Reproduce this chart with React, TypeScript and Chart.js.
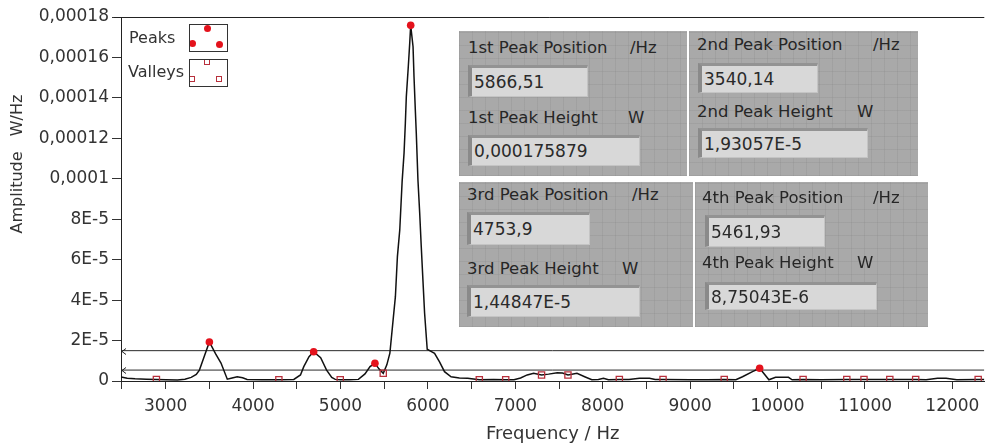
import React, { useEffect, useRef } from "react";
import { Chart, registerables } from "chart.js";

Chart.register(...registerables);

// ---------- data (amplitudes in 1e-6 W/Hz) ----------
const SPEC_FREQ = [
  2490, 2560, 2650, 2780, 2894, 3000, 3136, 3220, 3292, 3350, 3386, 3440, 3500, 3570, 3633, 3705,
  3760, 3818, 3880, 3932, 4100, 4295, 4466, 4542, 4580, 4640, 4693, 4773, 4841, 4900, 4940, 4997,
  5100, 5205, 5280, 5338, 5394, 5440, 5489, 5530, 5565, 5602, 5628, 5651, 5678, 5705, 5727, 5742,
  5753, 5775, 5792, 5803, 5830, 5841, 5856, 5867, 5886, 5906, 5924, 5943, 5962, 5992, 6030, 6076,
  6133, 6190, 6265, 6360, 6455, 6588, 6750, 6890, 6985, 7060, 7136, 7210, 7300, 7380, 7480, 7540,
  7602, 7705, 7800, 7875, 7950, 8008, 8065, 8190, 8300, 8420, 8535, 8600, 8690, 9000, 9200, 9390,
  9523, 9599, 9713, 9795, 9901, 9977, 10125, 10167, 10292, 10500, 10792, 10900, 10989, 11150, 11284,
  11450, 11580, 11700, 11830, 11928, 12050, 12295, 12365,
];
const SPEC_AMP = [
  2.0, 1.4, 1.1, 0.9, 0.7, 0.6, 0.5, 0.9, 1.8, 3.2, 5.4, 12.0, 19.3, 13.5, 8.9, 0.9,
  1.5, 2.1, 1.6, 0.8, 0.6, 0.6, 0.8, 3.0, 7.1, 12.0, 14.5, 11.5, 5.4, 1.8, 0.8, 0.6,
  0.6, 0.8, 3.5, 7.1, 8.75, 6.0, 3.8, 8.0, 13.8, 30.2, 41.7, 61.5, 74.7, 98.6, 112.7, 127.6,
  140.6, 155.0, 167.1, 175.88, 165.3, 150.5, 134.0, 122.6, 99.4, 83.1, 66.4, 49.9, 33.6, 15.7, 14.8, 13.7,
  9.5, 4.6, 2.1, 1.5, 1.3, 0.6, 0.7, 0.6, 0.6, 1.5, 3.0, 3.8, 3.0, 3.4, 4.1, 3.9,
  3.0, 3.8, 2.0, 0.6, 0.8, 1.3, 0.6, 0.7, 0.7, 1.3, 1.3, 0.7, 0.7, 0.6, 0.6, 0.7,
  0.6, 2.1, 4.6, 6.3, 0.6, 1.8, 1.8, 0.6, 0.7, 0.6, 0.7, 0.7, 0.7, 0.7, 0.7,
  0.7, 0.7, 0.6, 1.3, 1.3, 0.6, 0.7, 0.7,
];
const PEAK_FREQ = [3500, 4693, 5394, 5803, 9795];
const PEAK_AMP = [19.3057, 14.4847, 8.75043, 175.879, 6.3];
const VALLEY_FREQ = [2894, 4295, 4997, 5489, 6588, 6890, 7300, 7602, 8190, 8690, 9390, 10292, 10792, 10989, 11284, 11580, 12295];
const VALLEY_AMP = [0.7, 0.6, 0.6, 3.8, 0.6, 0.6, 3.0, 3.0, 0.7, 0.7, 0.7, 0.7, 0.7, 0.7, 0.7, 0.7, 0.7];
const THRESHOLDS = [15.0, 5.4];

const X_TICKS = [2500, 3000, 3500, 4000, 4500, 5000, 5500, 6000, 6500, 7000, 7500, 8000, 8500, 9000, 9500, 10000, 10500, 11000, 11500, 12000];
const X_TICK_LABELS = ["", "3000", "", "4000", "", "5000", "", "6000", "", "7000", "", "8000", "", "9000", "", "10000", "", "11000", "", "12000"];
const Y_TICKS = [0, 20, 40, 60, 80, 100, 120, 140, 160, 180];
const Y_TICK_LABELS = ["0", "2E-5", "4E-5", "6E-5", "8E-5", "0,0001", "0,00012", "0,00014", "0,00016", "0,00018"];

const X_TITLE = "Frequency / Hz";
const Y_TITLE = "Amplitude   W/Hz";
const LEGEND_LABELS = ["Peaks", "Valleys"];

const PANEL_POS_LABELS = ["1st Peak Position", "2nd Peak Position", "3rd Peak Position", "4th Peak Position"];
const PANEL_HEIGHT_LABELS = ["1st Peak Height", "2nd Peak Height", "3rd Peak Height", "4th Peak Height"];
const PANEL_POS_VALUES = ["5866,51", "3540,14", "4753,9", "5461,93"];
const PANEL_HEIGHT_VALUES = ["0,000175879", "1,93057E-5", "1,44847E-5", "8,75043E-6"];
const POS_UNIT = "/Hz";
const HEIGHT_UNIT = "W";

const UNIT = 1e-6;
const X_MIN = 2489;
const X_MAX = 12365;
const FONT = '"DejaVu Sans", sans-serif';
const TEXT = "#333333";

// ---------- layout (pixels) ----------
const PANEL_LAYOUT = [
  { l: 459, t: 31, w: 228, h: 145, lab1: [468, 48, 630], in1: [468, 65, 120, 32], lab2: [468, 118, 628], in2: [468, 135, 172, 31] },
  { l: 689, t: 31, w: 229, h: 145, lab1: [697, 45, 873], in1: [698, 63, 120, 30], lab2: [697, 112, 857], in2: [698, 128, 170, 30] },
  { l: 459, t: 182, w: 234, h: 145, lab1: [467, 195, 632], in1: [467, 212, 123, 33], lab2: [467, 269, 622], in2: [467, 285, 173, 32] },
  { l: 695, t: 182, w: 233, h: 145, lab1: [702, 198, 873], in1: [705, 215, 120, 32], lab2: [702, 263, 857], in2: [705, 282, 172, 28] },
];

const decor = {
  id: "decor",
  afterDraw(chart: any) {
    const { ctx, chartArea, scales } = chart;
    const { left, right, top } = chartArea;
    ctx.save();
    ctx.strokeStyle = "#222";
    ctx.lineWidth = 1;
    ctx.beginPath();
    ctx.moveTo(left - 7, Math.round(top) + 0.5);
    ctx.lineTo(right, Math.round(top) + 0.5);
    ctx.stroke();
    THRESHOLDS.forEach((t) => {
      const py = Math.round(scales.y.getPixelForValue(t * UNIT)) + 0.5;
      ctx.beginPath();
      ctx.moveTo(left + 5, py - 3);
      ctx.lineTo(left + 1, py);
      ctx.lineTo(left + 5, py + 3);
      ctx.stroke();
    });
    ctx.fillStyle = TEXT;
    ctx.font = "16px " + FONT;
    ctx.textAlign = "center";
    ctx.textBaseline = "middle";
    ctx.translate(18, 164);
    ctx.rotate(-Math.PI / 2);
    ctx.fillText(Y_TITLE, 0, 0);
    ctx.restore();
  },
};

const gridBg =
  "repeating-linear-gradient(0deg, rgba(130,130,130,0.22) 0 1px, transparent 1px 13px), repeating-linear-gradient(90deg, rgba(130,130,130,0.22) 0 1px, transparent 1px 13px)";

function Label({ x, cy, ux, text, unit }: any) {
  const st: any = { position: "absolute", top: cy - 11, height: 22, lineHeight: "22px", fontFamily: FONT, fontSize: 16.5, color: "#262626", whiteSpace: "pre" };
  return (
    <>
      <div style={{ ...st, left: x }}>{text}</div>
      <div style={{ ...st, left: ux }}>{unit}</div>
    </>
  );
}

function InputBox({ r, text }: any) {
  const [x, y, w, h] = r;
  return (
    <div
      style={{
        position: "absolute",
        left: x,
        top: y,
        width: w,
        height: h,
        boxSizing: "border-box",
        background: "#d8d8d8",
        borderLeft: "4px solid #8a8a8a",
        borderTop: "3px solid #939393",
        borderRight: "1px solid #c4c4c4",
        borderBottom: "1px solid #c4c4c4",
        fontFamily: FONT,
        fontSize: 17,
        color: "#2a2a2a",
        lineHeight: h - 4 + "px",
        paddingLeft: 2,
        whiteSpace: "pre",
        overflow: "hidden",
      }}
    >
      {text}
    </div>
  );
}

function Dot({ x, y }: any) {
  return <div style={{ position: "absolute", left: x - 3.5, top: y - 3.5, width: 7, height: 7, borderRadius: "50%", background: "#e4121c" }} />;
}
function Sq({ x, y }: any) {
  return <div style={{ position: "absolute", left: x - 3, top: y - 3, width: 6, height: 6, boxSizing: "border-box", border: "1.3px solid #b8303c" }} />;
}

export default function App() {
  const ref = useRef<HTMLCanvasElement | null>(null);
  useEffect(() => {
    if (!ref.current) return;
    const spectrum = SPEC_FREQ.map((f, i) => ({ x: f, y: SPEC_AMP[i] * UNIT }));
    const peaks = PEAK_FREQ.map((f, i) => ({ x: f, y: PEAK_AMP[i] * UNIT }));
    const valleys = VALLEY_FREQ.map((f, i) => ({ x: f, y: VALLEY_AMP[i] * UNIT }));
    const thr = THRESHOLDS.map((t) => ({
      data: [
        { x: X_MIN, y: t * UNIT },
        { x: X_MAX, y: t * UNIT },
      ],
      borderColor: "#2a2a2a",
      borderWidth: 1,
      pointRadius: 0,
      label: "threshold",
    }));
    const chart = new Chart(ref.current, {
      type: "line",
      data: {
        datasets: [
          { label: "Peaks", data: peaks, showLine: false, pointStyle: "circle", pointRadius: 3.8, pointBackgroundColor: "#e4121c", pointBorderColor: "#e4121c", pointBorderWidth: 0 },
          { label: "Valleys", data: valleys, showLine: false, pointStyle: "rect", pointRadius: 4.4, pointBackgroundColor: "rgba(0,0,0,0)", pointBorderColor: "#b8303c", pointBorderWidth: 1.3 },
          { label: "Spectrum", data: spectrum, borderColor: "#111", borderWidth: 1.5, pointRadius: 0, tension: 0 },
          ...thr,
        ] as any,
      },
      options: {
        animation: false,
        responsive: false,
        maintainAspectRatio: false,
        layout: { padding: { top: 17, right: 0, bottom: 0, left: 0 } },
        plugins: { legend: { display: false }, tooltip: { enabled: false } },
        scales: {
          x: {
            type: "linear",
            min: X_MIN,
            max: X_MAX,
            afterBuildTicks: (s: any) => {
              s.ticks = X_TICKS.map((v) => ({ value: v }));
            },
            afterFit: (s: any) => {
              s.height = 67;
            },
            ticks: {
              autoSkip: false,
              maxRotation: 0,
              padding: 7,
              color: TEXT,
              font: { family: FONT, size: 17 },
              callback: (_v: any, i: number) => X_TICK_LABELS[i],
            },
            grid: { drawOnChartArea: false, tickLength: 8, color: "#333" },
            border: { display: true, color: "#222", width: 1 },
            title: { display: true, text: X_TITLE, color: TEXT, font: { family: FONT, size: 18 }, padding: { top: 0, bottom: 3 } },
          },
          y: {
            min: 0,
            max: 180 * UNIT,
            afterBuildTicks: (s: any) => {
              s.ticks = Y_TICKS.map((v) => ({ value: v * UNIT }));
            },
            afterFit: (s: any) => {
              s.width = 121;
            },
            ticks: {
              padding: 3,
              color: TEXT,
              font: { family: FONT, size: 17 },
              callback: (_v: any, i: number) => Y_TICK_LABELS[i],
            },
            grid: { drawOnChartArea: false, tickLength: 9, color: "#333" },
            border: { display: true, color: "#222", width: 1 },
          },
        },
      } as any,
      plugins: [decor],
    });
    return () => chart.destroy();
  }, []);

  return (
    <div style={{ position: "fixed", left: 0, top: 0, width: 990, height: 448, background: "#fff", overflow: "hidden" }}>
      <canvas ref={ref} width={990} height={448} style={{ position: "absolute", left: 0, top: 0, display: "block" }} />
      {/* legend */}
      <div style={{ position: "absolute", left: 129, top: 27, fontFamily: FONT, fontSize: 16, color: TEXT, lineHeight: "22px" }}>{LEGEND_LABELS[0]}</div>
      <div style={{ position: "absolute", left: 128, top: 61, fontFamily: FONT, fontSize: 16, color: TEXT, lineHeight: "22px" }}>{LEGEND_LABELS[1]}</div>
      <div style={{ position: "absolute", left: 189, top: 24, width: 39, height: 28, boxSizing: "border-box", border: "1px solid #333", background: "#fff", overflow: "hidden" }}>
        <Dot x={17} y={3} />
        <Dot x={2} y={18} />
        <Dot x={29} y={19} />
      </div>
      <div style={{ position: "absolute", left: 189, top: 59, width: 39, height: 28, boxSizing: "border-box", border: "1px solid #333", background: "#fff", overflow: "hidden" }}>
        <Sq x={17} y={2} />
        <Sq x={2} y={19} />
        <Sq x={29} y={19} />
      </div>
      {/* indicator panels */}
      {PANEL_LAYOUT.map((p, i) => (
        <React.Fragment key={i}>
          <div style={{ position: "absolute", left: p.l, top: p.t, width: p.w, height: p.h, background: "#a9a9a9", backgroundImage: gridBg }} />
          <Label x={p.lab1[0]} cy={p.lab1[1]} ux={p.lab1[2]} text={PANEL_POS_LABELS[i]} unit={POS_UNIT} />
          <InputBox r={p.in1} text={PANEL_POS_VALUES[i]} />
          <Label x={p.lab2[0]} cy={p.lab2[1]} ux={p.lab2[2]} text={PANEL_HEIGHT_LABELS[i]} unit={HEIGHT_UNIT} />
          <InputBox r={p.in2} text={PANEL_HEIGHT_VALUES[i]} />
        </React.Fragment>
      ))}
    </div>
  );
}
